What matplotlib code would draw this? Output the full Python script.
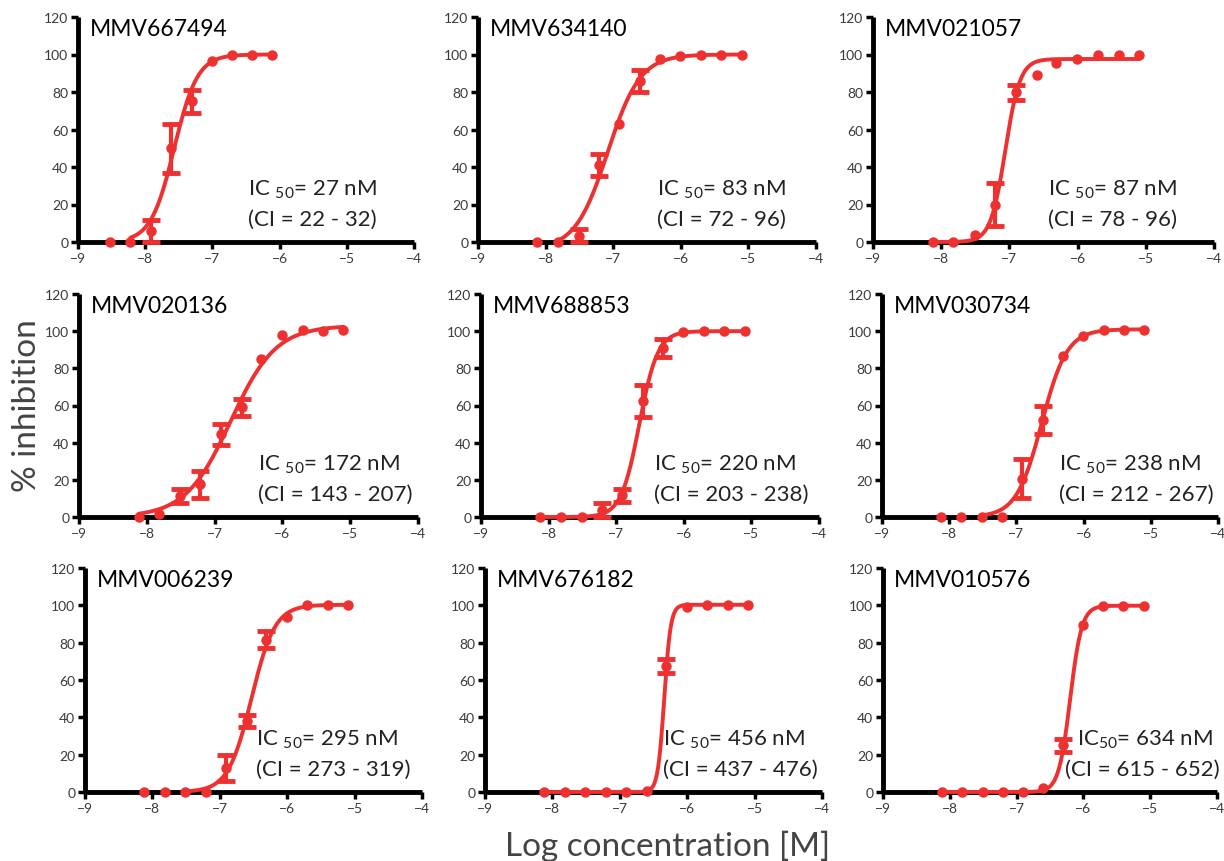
import numpy as np
import matplotlib.pyplot as plt

plt.rcParams['font.family'] = ['Lato', 'DejaVu Sans']
plt.rcParams['mathtext.fontset'] = 'custom'
plt.rcParams['mathtext.rm'] = 'Lato'

RED = '#EE3030'

# compound names and fit results
names = ['MMV667494', 'MMV634140', 'MMV021057',
         'MMV020136', 'MMV688853', 'MMV030734',
         'MMV006239', 'MMV676182', 'MMV010576']
ic50_nm = [27, 83, 87, 172, 220, 238, 295, 456, 634]
ci_lo = [22, 72, 78, 143, 203, 212, 273, 437, 615]
ci_hi = [32, 96, 96, 207, 238, 267, 319, 476, 652]
hill = [2.5, 1.8, 4.0, 1.3, 3.2, 2.3, 2.5, 9.0, 5.0]
top = [100, 100, 97.6, 103, 100, 101, 100.3, 100.3, 99.8]
bottom = [0, -4, 0, 0, 0, 0, 0, 0, 0]
curve_start = [1, 1, 0, 0, 0, 2, 2, 0, 0]

# measured points (log M), mean % inhibition and error
x_short = [-8.53, -8.22, -7.92, -7.62, -7.31, -7.01, -6.71, -6.41, -6.11]
x_long = [-8.12, -7.82, -7.51, -7.21, -6.91, -6.60, -6.31, -6.01, -5.70, -5.40, -5.10]

y1 = [0, 0, 6, 50, 75, 96.5, 100, 100, 100]
e1 = [0, 0, 6, 13, 6, 0, 0, 0, 0]
y2 = [0, 0, 3.4, 41, 63, 86, 97.7, 99, 100, 100, 100]
e2 = [0, 0, 3.4, 6, 0, 6, 0, 0, 0, 0, 0]
y3 = [0, 0, 4, 20, 80, 89, 95.6, 97.8, 100, 100, 100]
e3 = [0, 0, 0, 11.5, 4, 0, 0, 0, 0, 0, 0]
y4 = [0, 1.4, 11.3, 17.6, 44.5, 59, 85, 97.9, 100.5, 100, 100.5]
e4 = [0, 0, 4, 7.2, 5.5, 4.7, 0, 0, 0, 0, 0]
y5 = [0, 0, 0, 3.7, 11.8, 62.5, 90.8, 99.3, 100.3, 100.3, 100.3]
e5 = [0, 0, 0, 3.7, 3.5, 8.5, 4.9, 0, 0, 0, 0]
y6 = [0, 0, 0, 0, 20.7, 52, 86.4, 97.5, 100.5, 100.5, 100.5]
e6 = [0, 0, 0, 0, 10.3, 7.6, 0, 0, 0, 0, 0]
y7 = [0, 0, 0, 0, 13, 38, 81.5, 93.6, 100.2, 100.2, 100.2]
e7 = [0, 0, 0, 0, 7, 3.3, 4.5, 0, 0, 0, 0]
y8 = [0, 0, 0, 0, 0, 0.5, 67.5, 99.2, 100.3, 100.3, 100.3]
e8 = [0, 0, 0, 0, 0, 0, 3.8, 0, 0, 0, 0]
y9 = [0, 0, 0, 0, 0, 2.2, 25, 89.4, 99.7, 99.7, 99.7]
e9 = [0, 0, 0, 0, 0, 0, 3.5, 0, 0, 0, 0]

xs = [x_short] + [x_long] * 8
ys = [y1, y2, y3, y4, y5, y6, y7, y8, y9]
es = [e1, e2, e3, e4, e5, e6, e7, e8, e9]

# axes boxes in pixels: (x_left, x_right, y_bottom, y_top)
boxes = [(78, 414, 243, 18), (478, 816, 243, 18), (873, 1214, 243, 18),
         (79, 418, 518, 295), (481, 819, 518, 295), (882, 1218, 518, 295),
         (85, 422, 793, 569), (485, 822, 793, 569), (883, 1217, 793, 569)]
W, H = 1224, 862

# where the IC50 text starts (data x) for line 1 / line 2
txt_x1 = [-6.47, -6.35, -6.43, -6.36, -6.44, -6.37, -6.46, -6.36, -6.09]
txt_x2 = [-6.47, -6.35, -6.43, -6.36, -6.44, -6.37, -6.46, -6.36, -6.28]

fig = plt.figure(figsize=(W / 100, H / 100), dpi=100)

for i in range(9):
    x0, x1, yb, yt = boxes[i]
    ax = fig.add_axes([x0 / W, (H - yb) / H, (x1 - x0) / W, (yb - yt) / H])
    x = np.array(xs[i])
    y = np.array(ys[i])
    e = np.array(es[i])

    # 4PL fit curve
    logic = np.log10(ic50_nm[i] * 1e-9)
    xc = np.linspace(x[curve_start[i]], x[-1], 400)
    yc = bottom[i] + (top[i] - bottom[i]) / (1 + 10 ** ((logic - xc) * hill[i]))
    ax.plot(xc, yc, color=RED, lw=2.8, solid_capstyle='round', zorder=3, clip_on=False)

    m = e > 0
    ax.errorbar(x[m], y[m], yerr=e[m], fmt='none', ecolor=RED, elinewidth=3,
                capsize=6.5, capthick=3.5, zorder=4, clip_on=False)
    ax.plot(x, y, 'o', color=RED, ms=6.5, zorder=5, clip_on=False)

    ax.set_xlim(-9, -4)
    ax.set_ylim(0, 120)
    ax.set_xticks(range(-9, -3))
    ax.set_yticks(range(0, 121, 20))
    for s in ['top', 'right']:
        ax.spines[s].set_visible(False)
    for s in ['left', 'bottom']:
        ax.spines[s].set_linewidth(3.5)
        ax.spines[s].set_capstyle('butt')
    ax.tick_params(length=5, width=2.5, direction='out', labelsize=10,
                   labelcolor='#3a3a3a', pad=2)

    ax.text(-8.83, 114, names[i], fontsize=16.5, va='center', ha='left')
    ax.text(txt_x1[i], 28.5, r'IC $_{\mathregular{50}}$= %d nM' % ic50_nm[i]
            if i < 8 else r'IC$_{\mathregular{50}}$= %d nM' % ic50_nm[i],
            fontsize=16, va='center', ha='left', color='#222222')
    ax.text(txt_x2[i], 12.5, '(CI = %d - %d)' % (ci_lo[i], ci_hi[i]),
            fontsize=16, va='center', ha='left', color='#222222')

fig.text(27 / W, 1 - 406 / H, '% inhibition', rotation=90, fontsize=24,
         ha='center', va='center', color='#444444')
fig.text(668 / W, 1 - 846 / H, 'Log concentration [M]', fontsize=24,
         ha='center', va='center', color='#444444')

fig.savefig('out.png', dpi=100)
